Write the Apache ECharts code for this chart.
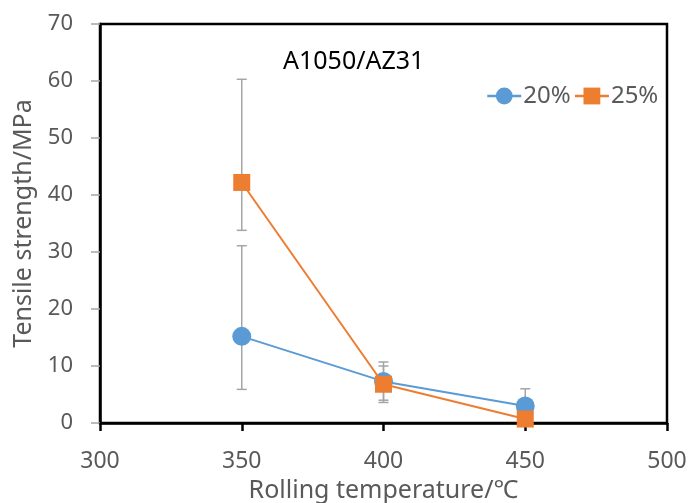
<!DOCTYPE html>
<html>
<head>
<meta charset="utf-8">
<script src="https://cdn.jsdelivr.net/npm/echarts@6/dist/echarts.min.js"></script>
<style>
html,body{margin:0;padding:0;background:#fff;}
#chart{width:692px;height:503px;}
</style>
</head>
<body>
<div id="chart"></div>
<script>
var temps = [350, 400, 450];
var names = ['20%', '25%'];
var s20 = [15.2, 7.3, 3.0];
var s20Low = [5.9, 4.0, 0.0];
var s20High = [31.1, 10.7, 6.0];
var s25 = [42.2, 6.8, 0.7];
var s25Low = [33.8, 3.6, 0.3];
var s25High = [60.3, 10.0, 1.1];
var xTicks = [300, 350, 400, 450, 500];
var yTicks = [0, 10, 20, 30, 40, 50, 60, 70];

var FONT = 'Noto Sans';
var GRAY = '#595959';

function pairs(ys) { return temps.map(function (t, i) { return [t, ys[i]]; }); }
function errData(lo, hi) { return temps.map(function (t, i) { return [t, lo[i], hi[i]]; }); }

function errRender(params, api) {
  var x = api.value(0);
  var lo = api.coord([x, api.value(1)]);
  var hi = api.coord([x, api.value(2)]);
  var w = 5;
  var style = { stroke: '#A5A5A5', lineWidth: 1.5 };
  return {
    type: 'group',
    children: [
      { type: 'line', shape: { x1: lo[0], y1: lo[1], x2: hi[0], y2: hi[1] }, style: style },
      { type: 'line', shape: { x1: lo[0] - w, y1: lo[1], x2: lo[0] + w, y2: lo[1] }, style: style },
      { type: 'line', shape: { x1: hi[0] - w, y1: hi[1], x2: hi[0] + w, y2: hi[1] }, style: style }
    ]
  };
}

var chart = echarts.init(document.getElementById('chart'));
chart.setOption({
  animation: false,
  backgroundColor: '#fff',
  title: {
    text: 'A1050/AZ31',
    left: 278, top: 44,
    textStyle: { fontFamily: FONT, fontSize: 25, fontWeight: 'normal', color: '#000' }
  },
  legend: {
    data: names,
    left: 481, top: 79,
    itemWidth: 34, itemHeight: 21, itemGap: 3,
    lineStyle: { width: 2.5 },
    textStyle: { fontFamily: FONT, fontSize: 24, color: GRAY, padding: [0, 0, 0, -3] }
  },
  grid: {
    left: 100, right: 25, top: 24, bottom: 80,
    outerBoundsMode: 'none', containLabel: false,
    show: true, borderColor: '#000', borderWidth: 2.5, backgroundColor: 'transparent'
  },
  xAxis: {
    type: 'value', min: xTicks[0], max: xTicks[xTicks.length - 1], interval: 50,
    name: 'Rolling temperature/\u2103', nameLocation: 'middle', nameGap: 52,
    nameTextStyle: { fontFamily: FONT, fontSize: 25, color: GRAY },
    axisLine: { lineStyle: { color: '#000', width: 2.5 } },
    axisTick: { show: true, length: 8, lineStyle: { color: '#000', width: 2.5 } },
    axisLabel: { fontFamily: FONT, fontSize: 23, color: GRAY, margin: 27 },
    splitLine: { show: false }
  },
  yAxis: {
    type: 'value', min: yTicks[0], max: yTicks[yTicks.length - 1], interval: 10,
    name: 'Tensile strength/MPa', nameLocation: 'middle', nameGap: 64,
    nameTextStyle: { fontFamily: FONT, fontSize: 25, color: GRAY },
    axisLine: { lineStyle: { color: '#000', width: 2.5 } },
    axisTick: { show: true, length: 9, lineStyle: { color: '#A5A5A5', width: 1.5 } },
    axisLabel: { fontFamily: FONT, fontSize: 22, color: GRAY, margin: 27 },
    splitLine: { show: false }
  },
  series: [
    { type: 'custom', name: 'err20', renderItem: errRender, data: errData(s20Low, s20High), z: 1, silent: true },
    { type: 'custom', name: 'err25', renderItem: errRender, data: errData(s25Low, s25High), z: 1, silent: true },
    {
      type: 'line', name: names[0], data: pairs(s20), z: 3,
      symbol: 'circle', symbolSize: 19,
      lineStyle: { color: '#5B9BD5', width: 2 }, itemStyle: { color: '#5B9BD5' }
    },
    {
      type: 'line', name: names[1], data: pairs(s25), z: 4,
      symbol: 'rect', symbolSize: 17,
      lineStyle: { color: '#ED7D31', width: 2 }, itemStyle: { color: '#ED7D31' }
    }
  ]
});
</script>
</body>
</html>
